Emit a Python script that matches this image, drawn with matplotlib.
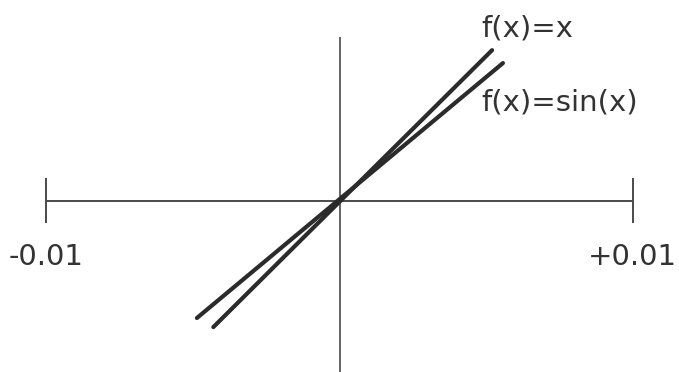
import matplotlib
matplotlib.use("Agg")
from matplotlib import pyplot as plt

# axis extent and tick labels
axis_ends = [-0.01, 0.01]
tick_labels = ["-0.01", "+0.01"]

# the two curves near x=0 (exaggerated illustration), endpoints in data units
line_x_x = [-0.0043, 0.0052]
line_x_y = [-0.0043, 0.00514]
sin_x = [-0.00486, 0.00557]
sin_y = [-0.00399, 0.0047]
curve_names = ["f(x)=x", "f(x)=sin(x)"]

if __name__ == "__main__":
    fig = plt.figure(figsize=(6.79, 3.72), dpi=100)
    ax = fig.add_axes([0, 0, 1, 1])
    ax.set_xlim(-0.01157, 0.01157)
    ax.set_ylim(-0.00583, 0.00685)
    ax.axis("off")

    axis_color = "#4a4a4a"
    line_color = "#2b2b2b"
    text_color = "#333333"

    # horizontal axis with end bars
    ax.plot(axis_ends, [0, 0], color=axis_color, lw=1.4, solid_capstyle="butt")
    for xe in axis_ends:
        ax.plot([xe, xe], [-0.00075, 0.00078], color=axis_color, lw=1.4,
                solid_capstyle="butt")
    # vertical axis
    ax.plot([0, 0], [-0.0059, 0.00559], color=axis_color, lw=1.2,
            solid_capstyle="butt")

    ax.plot(line_x_x, line_x_y, color=line_color, lw=3, solid_capstyle="round")
    ax.plot(sin_x, sin_y, color=line_color, lw=3, solid_capstyle="round")

    ax.text(0.00485, 0.00559, curve_names[0], fontsize=21, color=text_color,
            ha="left", va="baseline")
    ax.text(0.00485, 0.0031, curve_names[1], fontsize=21, color=text_color,
            ha="left", va="baseline")

    for xe, lab in zip(axis_ends, tick_labels):
        ax.text(xe, -0.00218, lab, fontsize=21, color=text_color,
                ha="center", va="baseline")

    fig.savefig("out.png", dpi=100)
